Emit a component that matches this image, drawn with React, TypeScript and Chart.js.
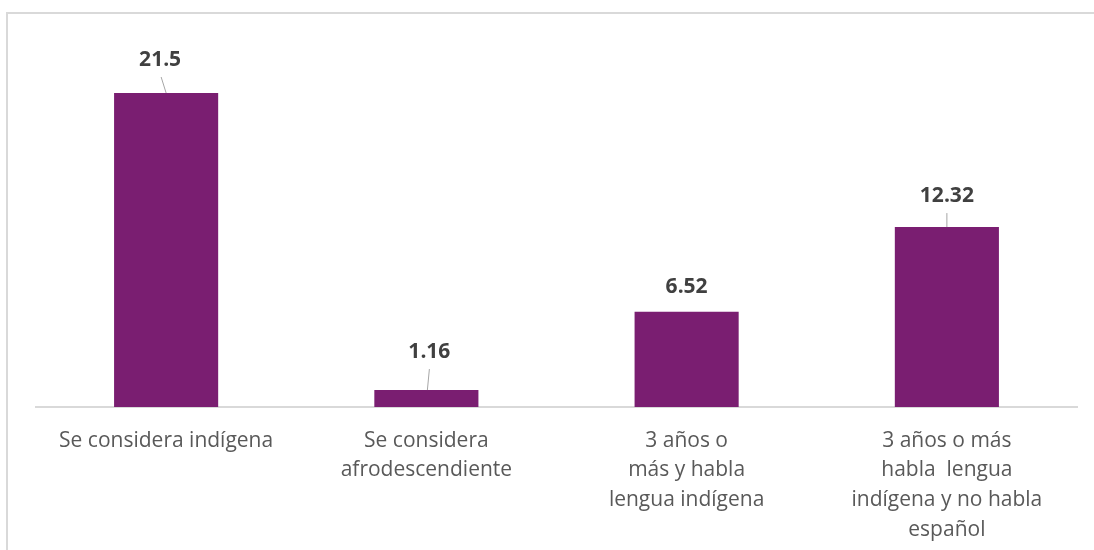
import React, { useEffect, useRef } from "react";
import { Chart, registerables } from "chart.js";

Chart.register(...registerables);

const categories: string[][] = [
  ["Se considera indígena"],
  ["Se considera", "afrodescendiente"],
  ["3 años o", "más y habla", "lengua indígena"],
  ["3 años o más", "habla  lengua", "indígena y no habla", "español"],
];
const values: number[] = [21.5, 1.16, 6.52, 12.32];
const valueLabels: string[] = ["21.5", "1.16", "6.52", "12.32"];

// label layout (style): vertical offset above bar top, horizontal shift, leader line
const labelLayout = [
  { off: 33, dx: -6, leader: true },
  { off: 38, dx: 3, leader: true },
  { off: 25, dx: 0, leader: false },
  { off: 31, dx: 0, leader: true },
];

const FONT = "'Open Sans', 'Noto Sans', sans-serif";

const valueLabelPlugin = {
  id: "valueLabels",
  afterDatasetsDraw(chart: any) {
    const ctx = chart.ctx;
    const meta = chart.getDatasetMeta(0);
    ctx.save();
    meta.data.forEach((bar: any, i: number) => {
      const lay = labelLayout[i];
      const tx = bar.x + lay.dx;
      const ty = bar.y - lay.off;
      ctx.font = `bold 21px ${FONT}`;
      ctx.fillStyle = "#404040";
      ctx.textAlign = "center";
      ctx.textBaseline = "middle";
      ctx.fillText(valueLabels[i], tx, ty);
      if (lay.leader) {
        ctx.strokeStyle = "#a6a6a6";
        ctx.lineWidth = 1;
        ctx.beginPath();
        ctx.moveTo(tx + (lay.dx < 0 ? 1 : 0), ty + 17);
        ctx.lineTo(bar.x + (lay.dx > 0 ? 1 : 0), bar.y);
        ctx.stroke();
      }
    });
    ctx.restore();
  },
};

export default function App() {
  const ref = useRef<HTMLCanvasElement | null>(null);
  useEffect(() => {
    if (!ref.current) return;
    const chart = new Chart(ref.current, {
      type: "bar",
      data: {
        labels: categories,
        datasets: [
          {
            data: values,
            backgroundColor: "#7A1E71",
            borderWidth: 0,
            barPercentage: 0.4,
            categoryPercentage: 1,
          },
        ],
      },
      options: {
        animation: false,
        responsive: false,
        maintainAspectRatio: false,
        layout: { padding: { left: 36, right: 17, top: 56.5, bottom: 0 } },
        plugins: { legend: { display: false }, tooltip: { enabled: false } },
        scales: {
          x: {
            grid: { display: false, drawTicks: false },
            border: { display: true, color: "#d9d9d9", width: 2 },
            ticks: {
              color: "#595959",
              font: { family: FONT, size: 21, lineHeight: 1.41 },
              padding: 19,
              maxRotation: 0,
              autoSkip: false,
            },
            afterFit: (scale: any) => {
              scale.height = 143;
            },
          },
          y: {
            display: false,
            min: 0,
            max: 24,
          },
        },
      },
      plugins: [valueLabelPlugin],
    });
    return () => chart.destroy();
  }, []);
  return (
    <div
      style={{
        position: "fixed",
        left: 0,
        top: 0,
        width: 1094,
        height: 550,
        overflow: "hidden",
        background: "#fff",
      }}
    >
      <div
        style={{
          position: "absolute",
          left: 6,
          top: 12,
          width: 2000,
          height: 2000,
          borderTop: "2px solid #d9d9d9",
          borderLeft: "2px solid #d9d9d9",
        }}
      />
      <canvas
        ref={ref}
        width={1094}
        height={550}
        style={{ position: "absolute", left: 0, top: 0, width: 1094, height: 550 }}
      />
    </div>
  );
}
